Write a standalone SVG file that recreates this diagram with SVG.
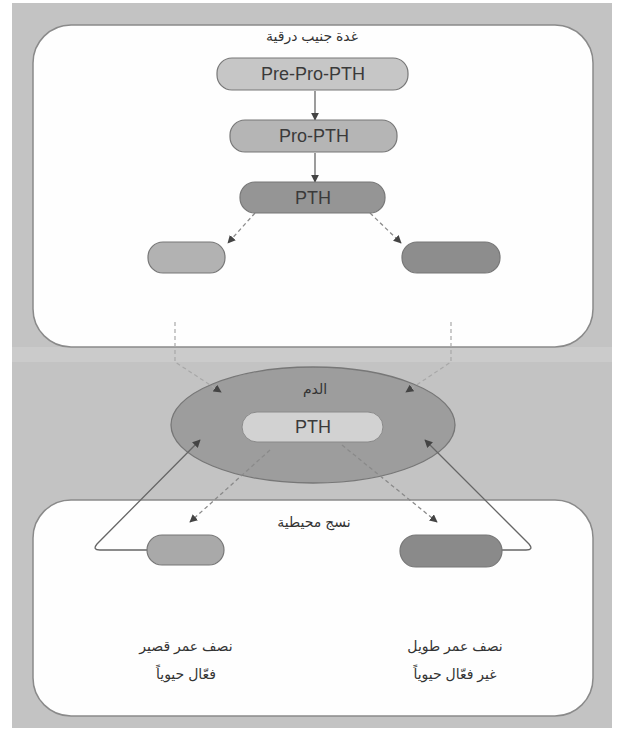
<svg xmlns="http://www.w3.org/2000/svg" width="617" height="734" viewBox="0 0 617 734">
<style>
.panel{fill:#fefefe;stroke:#8a8a8a;stroke-width:1.5}
.pill{stroke:#777;stroke-width:1.2}
.lbl{font-family:"Liberation Sans",Arial,sans-serif;font-size:18px;fill:#3a3a3a;text-anchor:middle}
.ar{font-family:"Liberation Sans","DejaVu Sans",sans-serif;font-size:14px;fill:#333;text-anchor:middle}
.solid{fill:none;stroke:#666;stroke-width:1.3}
.dash{fill:none;stroke:#8a8a8a;stroke-width:1.3;stroke-dasharray:4 3}
.faint{fill:none;stroke:#a8a8a8;stroke-width:1.2;stroke-dasharray:4 3}
</style>
<defs>
<marker id="ah" viewBox="0 0 10 10" refX="9" refY="5" markerWidth="8" markerHeight="8" markerUnits="userSpaceOnUse" orient="auto">
<path d="M0,0 L10,5 L0,10 z" fill="#444"/>
</marker>
</defs>
<rect x="0" y="0" width="617" height="734" fill="#ffffff"/>
<rect x="12" y="3" width="600" height="725" fill="#c3c3c3"/>
<rect x="12" y="347" width="600" height="15" fill="#cbcbcb"/>
<g id="gland-panel">
<rect class="panel" x="33" y="25" width="560" height="322" rx="38"/>
<text class="ar" x="312" y="41">غدة جنيب درقية</text>
</g>
<g id="tissue-panel">
<rect class="panel" x="33" y="500" width="560" height="216" rx="38"/>
<text class="ar" x="314" y="527">نسج محيطية</text>
<text class="ar" x="186" y="651">نصف عمر قصير</text>
<text class="ar" x="186" y="679">فعّال حيوياً</text>
<text class="ar" x="455" y="651">نصف عمر طويل</text>
<text class="ar" x="455" y="679">غير فعّال حيوياً</text>
</g>
<g id="blood">
<ellipse cx="313" cy="425" rx="142" ry="58" fill="#9d9d9d" stroke="#777" stroke-width="1.3"/>
<text class="ar" x="315" y="394">الدم</text>
</g>
<g id="connectors">
<path class="solid" d="M315,91 L315,120" marker-end="url(#ah)"/>
<path class="solid" d="M315,153 L315,182" marker-end="url(#ah)"/>
<path class="dash" d="M255,213 L228,243" marker-end="url(#ah)"/>
<path class="dash" d="M370,213 L401,243" marker-end="url(#ah)"/>
<path class="faint" d="M175,322 L175,362 L221,392" marker-end="url(#ah)"/>
<path class="faint" d="M451,322 L451,362 L406,392" marker-end="url(#ah)"/>
<path class="solid" d="M148,550 L100,550 Q92,550 97,544 L200,440" marker-end="url(#ah)"/>
<path class="solid" d="M501,550 L526,550 Q534,550 529,544 L425,440" marker-end="url(#ah)"/>
<path class="dash" d="M270,450 L190,522" marker-end="url(#ah)"/>
<path class="dash" d="M342,445 L437,522" marker-end="url(#ah)"/>
</g>
<g id="pre-pro-pth">
<rect class="pill" x="217" y="58" width="191" height="32" rx="15" fill="#c6c6c6"/>
<text class="lbl" x="313" y="80">Pre-Pro-PTH</text>
</g>
<g id="pro-pth">
<rect class="pill" x="230" y="120" width="167" height="32" rx="15" fill="#b5b5b5"/>
<text class="lbl" x="314" y="142">Pro-PTH</text>
</g>
<g id="pth-gland">
<rect class="pill" x="240" y="182" width="145" height="31" rx="15" fill="#959595"/>
<text class="lbl" x="313" y="204">PTH</text>
</g>
<g id="gland-left">
<rect class="pill" x="148" y="242" width="77" height="31" rx="15" fill="#b2b2b2"/>
</g>
<g id="gland-right">
<rect class="pill" x="402" y="242" width="98" height="31" rx="15" fill="#8d8d8d"/>
</g>
<g id="pth-blood">
<rect x="242" y="412" width="141" height="30" rx="15" fill="#d2d2d2" stroke="#8a8a8a" stroke-width="1"/>
<text class="lbl" x="313" y="433">PTH</text>
</g>
<g id="tissue-left">
<rect class="pill" x="147" y="535" width="77" height="30" rx="15" fill="#a9a9a9"/>
</g>
<g id="tissue-right">
<rect class="pill" x="400" y="535" width="102" height="32" rx="16" fill="#8a8a8a"/>
</g>
</svg>
